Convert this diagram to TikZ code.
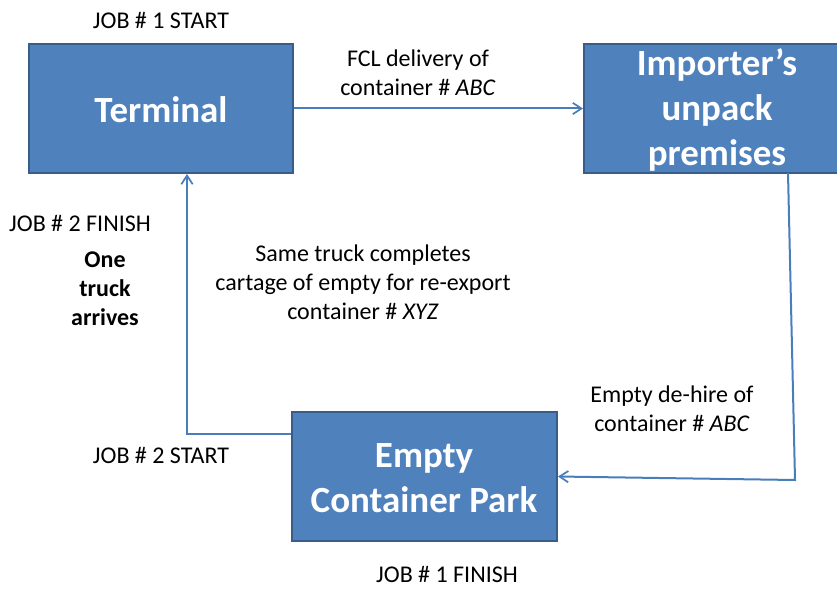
\documentclass[tikz,border=0pt]{standalone}
\usepackage{fontspec}
\setmainfont{Carlito}
\usetikzlibrary{arrows.meta}
\definecolor{boxfill}{HTML}{4F81BD}
\definecolor{boxline}{HTML}{385D8A}
\definecolor{conncol}{HTML}{4A7EBB}
\begin{document}
\begin{tikzpicture}[x=0.75pt,y=-0.75pt,
  blockbox/.style={draw=boxline,fill=boxfill,line width=1.5pt,minimum height=96.75pt,inner sep=0pt},
  blocktext/.style={text=white,font=\fontsize{27.7pt}{33.75pt}\selectfont\bfseries,align=center,inner sep=0pt},
  lbl/.style={font=\fontsize{18pt}{21.75pt}\selectfont,align=center,inner sep=0pt},
  conn/.style={draw=conncol,line width=1.5pt,-{Straight Barb[length=6.5pt,width=8.5pt,line width=1.3pt]}}]
\useasboundingbox (0,0) rectangle (837,588);
\clip (0,0) rectangle (837,588);
% boxes
\node[blockbox,minimum width=198pt] (term) at (161,108.5) {};
\node[blocktext] (termt) at (161,110) {Terminal};
\node[blockbox,minimum width=199.5pt] (imp) at (717,108.5) {};
\node[blocktext] (impt) at (717,110) {Importer’s\\unpack\\premises};
\node[blockbox,minimum width=198.75pt] (ecp) at (424.5,476.5) {};
\node[blocktext] (ecpt) at (424,478.5) {Empty\\Container Park};
% labels
\node[lbl] (j1s) at (161,20) {JOB \# 1 START};
\node[lbl] (fcl) at (418,72.5) {FCL delivery of\\container \# \textit{ABC}};
\node[lbl] (j2f) at (80,223) {JOB \# 2 FINISH};
\node[lbl,font=\fontsize{18pt}{21.75pt}\selectfont\bfseries] (one) at (105,289) {One\\truck\\arrives};
\node[lbl] (same) at (363,282) {Same truck completes\\cartage of empty for re-export\\container \# \textit{XYZ}};
\node[lbl] (dehire) at (672,409) {Empty de-hire of\\container \# \textit{ABC}};
\node[lbl] (j2s) at (161,455) {JOB \# 2 START};
\node[lbl] (j1f) at (447,574) {JOB \# 1 FINISH};
% connectors
\coordinate (r1) at (788,173);
\coordinate (r2) at (795,480);
\coordinate (l1) at (187,434);
\draw[conn] (term.east) -- (imp.west);
\draw[conn] (r1) -- (r2) -- (ecp.east);
\draw[conn] (ecp.west |- l1) -- (l1) -- (term.south -| l1);
\end{tikzpicture}
\end{document}
